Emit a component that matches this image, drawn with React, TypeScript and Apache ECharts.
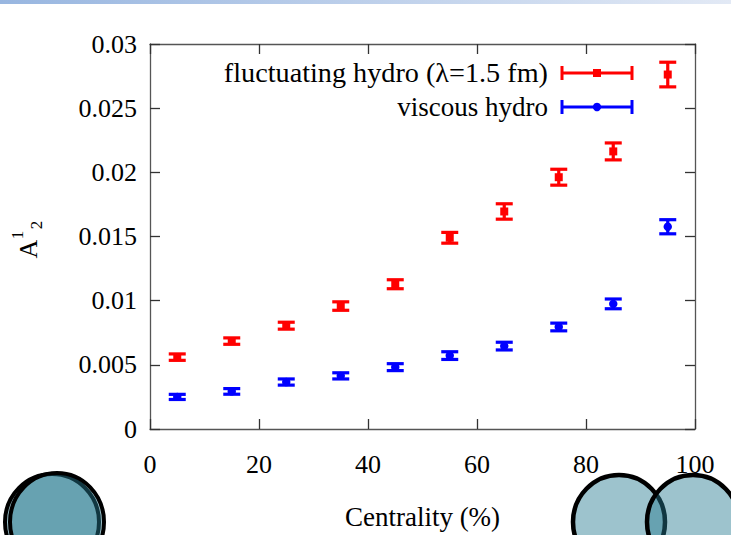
import React, { useEffect, useRef } from "react";
import * as echarts from "echarts";

const centrality = [5, 15, 25, 35, 45, 55, 65, 75, 85, 95];
const fluctValues = [0.0056, 0.00685, 0.00805, 0.00958, 0.01128, 0.0149, 0.01695, 0.01962, 0.02163, 0.02762];
const fluctErrors = [0.00025, 0.00025, 0.00027, 0.00033, 0.00035, 0.00042, 0.0006, 0.00062, 0.00066, 0.00096];
const viscValues = [0.0025, 0.00293, 0.00366, 0.00414, 0.00482, 0.00572, 0.00646, 0.00795, 0.00975, 0.01576];
const viscErrors = [0.0002, 0.00022, 0.00024, 0.00024, 0.00027, 0.0003, 0.0003, 0.0003, 0.00038, 0.00055];
const yTickLabels = ["0", "0.005", "0.01", "0.015", "0.02", "0.025", "0.03"];
const xTickLabels = ["0", "20", "40", "60", "80", "100"];
const seriesNames = ["fluctuating hydro (\u03bb=1.5 fm)", "viscous hydro"];

const FONT = "'Liberation Serif', 'DejaVu Serif', serif";
const RED = "#ff0000";
const BLUE = "#0000ff";

function makeRender(color: string, shape: "square" | "circle") {
  return (params: any, api: any) => {
    const x = api.value(0);
    const y = api.value(1);
    const e = api.value(2);
    const c = api.coord([x, y]);
    const hi = api.coord([x, y + e]);
    const lo = api.coord([x, y - e]);
    const hw = 8.5;
    const st = { stroke: color, lineWidth: 3.2, fill: "none" };
    const children: any[] = [
      { type: "line", shape: { x1: c[0], y1: hi[1], x2: c[0], y2: lo[1] }, style: st },
      { type: "line", shape: { x1: c[0] - hw, y1: hi[1], x2: c[0] + hw, y2: hi[1] }, style: st },
      { type: "line", shape: { x1: c[0] - hw, y1: lo[1], x2: c[0] + hw, y2: lo[1] }, style: st },
      shape === "square"
        ? { type: "rect", shape: { x: c[0] - 4, y: c[1] - 4, width: 8, height: 8 }, style: { fill: color } }
        : { type: "circle", shape: { cx: c[0], cy: c[1], r: 4.2 }, style: { fill: color } },
    ];
    return { type: "group", children };
  };
}

function legendItem(y: number, color: string, label: string, shape: "square" | "circle", sx: number) {
  const st = { stroke: color, lineWidth: 3 };
  return {
    type: "group",
    children: [
      { type: "text", x: 548, y: y, scaleX: sx, style: { text: label, font: `27px ${FONT}`, fill: "#000", align: "right", verticalAlign: "middle" } },
      { type: "line", shape: { x1: 562, y1: y, x2: 632, y2: y }, style: st },
      { type: "line", shape: { x1: 562, y1: y - 7, x2: 562, y2: y + 7 }, style: st },
      { type: "line", shape: { x1: 632, y1: y - 7, x2: 632, y2: y + 7 }, style: st },
      shape === "square"
        ? { type: "rect", shape: { x: 593, y: y - 4, width: 8, height: 8 }, style: { fill: color } }
        : { type: "circle", shape: { cx: 597, cy: y, r: 4.2 }, style: { fill: color } },
    ],
  };
}

export default function App() {
  const ref = useRef<HTMLDivElement>(null);
  useEffect(() => {
    if (!ref.current) return;
    const chart = echarts.init(ref.current, null, { renderer: "svg" });
    const axisLine = { show: true, onZero: false, lineStyle: { color: "#555", width: 1.3 } };
    const axisTick = { show: true, inside: true, length: 10, lineStyle: { color: "#333", width: 1.3 } };
    const labelStyle = { fontFamily: FONT, fontSize: 26, color: "#000" };
    const circleFill = "rgba(37,123,145,0.45)";
    const option: any = {
      animation: false,
      backgroundColor: "#fff",
      grid: { left: 150, right: 36, top: 44, bottom: 101 },
      xAxis: [
        {
          type: "value", min: 0, max: 100, interval: 20, position: "bottom",
          axisLine, axisTick, splitLine: { show: false },
          axisLabel: { ...labelStyle, margin: 22, formatter: (v: number) => xTickLabels[Math.round(v / 20)] },
          name: "Centrality (%)", nameLocation: "middle", nameGap: 74,
          nameTextStyle: { ...labelStyle, fontSize: 27 },
        },
        {
          type: "value", min: 0, max: 100, interval: 20, position: "top",
          axisLine, axisTick, splitLine: { show: false }, axisLabel: { show: false },
        },
      ],
      yAxis: [
        {
          type: "value", min: 0, max: 0.03, interval: 0.005, position: "left",
          axisLine, axisTick, splitLine: { show: false },
          axisLabel: { ...labelStyle, margin: 13, formatter: (v: number) => yTickLabels[Math.round(v / 0.005)] },
        },
        {
          type: "value", min: 0, max: 0.03, interval: 0.005, position: "right",
          axisLine, axisTick, splitLine: { show: false }, axisLabel: { show: false },
        },
      ],
      series: [
        {
          name: seriesNames[0], type: "custom", xAxisIndex: 0, yAxisIndex: 0,
          renderItem: makeRender(RED, "square"),
          data: centrality.map((c, i) => [c, fluctValues[i], fluctErrors[i]]),
          z: 3,
        },
        {
          name: seriesNames[1], type: "custom", xAxisIndex: 0, yAxisIndex: 0,
          renderItem: makeRender(BLUE, "circle"),
          data: centrality.map((c, i) => [c, viscValues[i], viscErrors[i]]),
          z: 3,
        },
      ],
      graphic: [
        {
          type: "rect", left: 0, top: 0, shape: { width: 731, height: 4 },
          style: {
            fill: new echarts.graphic.LinearGradient(0, 0, 1, 0, [
              { offset: 0, color: "#98b6e0" },
              { offset: 1, color: "#e2e9f5" },
            ]),
          },
          z: 10,
        },
        legendItem(73, RED, seriesNames[0], "square", 1.045),
        legendItem(107, BLUE, seriesNames[1], "circle", 1.0),
        {
          type: "group", x: 37, y: 250, rotation: Math.PI / 2,
          children: [
            { type: "text", x: 1, y: -9, style: { text: "A", font: `26px ${FONT}`, fill: "#000", align: "center", verticalAlign: "middle" } },
            { type: "text", x: 15, y: -20, style: { text: "1", font: `17px ${FONT}`, fill: "#000", align: "center", verticalAlign: "middle" } },
            { type: "text", x: 25, y: -1, style: { text: "2", font: `17px ${FONT}`, fill: "#000", align: "center", verticalAlign: "middle" } },
          ],
        },
        { type: "ellipse", shape: { cx: 52, cy: 522, rx: 47, ry: 48 }, style: { fill: circleFill, stroke: "#000", lineWidth: 4 }, z: 20 },
        { type: "ellipse", shape: { cx: 57, cy: 522, rx: 47, ry: 49 }, style: { fill: circleFill, stroke: "#000", lineWidth: 4 }, z: 20 },
        { type: "ellipse", shape: { cx: 619, cy: 522, rx: 46, ry: 47 }, style: { fill: circleFill, stroke: "#000", lineWidth: 4.5 }, z: 20 },
        { type: "ellipse", shape: { cx: 693, cy: 522, rx: 46, ry: 47 }, style: { fill: circleFill, stroke: "#000", lineWidth: 4.5 }, z: 20 },
      ],
    };
    chart.setOption(option);
    return () => chart.dispose();
  }, []);
  return <div ref={ref} style={{ position: "absolute", left: 0, top: 0, width: 731, height: 535 }} />;
}
